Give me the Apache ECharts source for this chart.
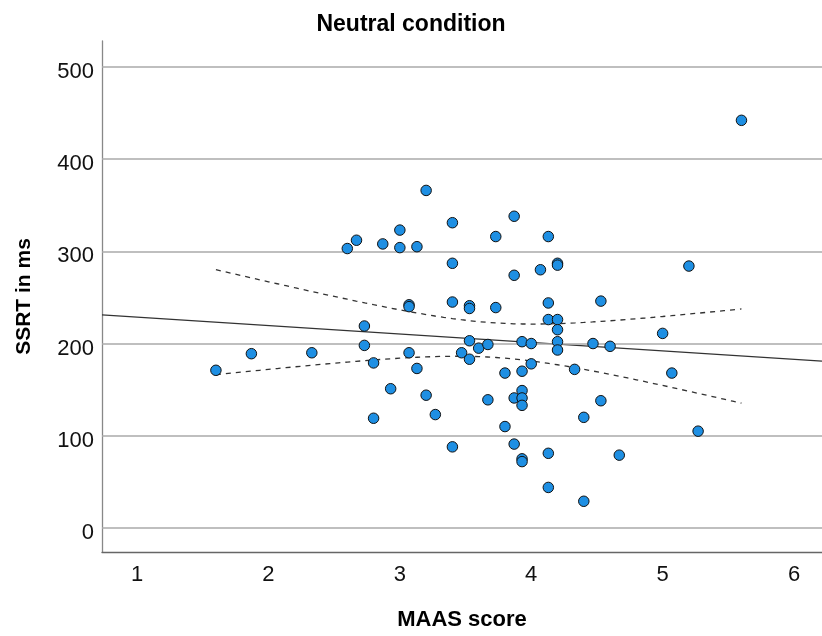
<!DOCTYPE html>
<html>
<head>
<meta charset="utf-8">
<script src="https://cdn.jsdelivr.net/npm/echarts@6/dist/echarts.min.js"></script>
<style>
    html, body { margin: 0; padding: 0; background: #fff; }
    #chart { width: 822px; height: 636px; }
</style>
</head>
<body>
<div id="chart"></div>
<script>
// 数据：MAAS 分数 与 SSRT (ms)
var maasScore = [
    3.20, 3.40, 3.00, 2.67, 2.60, 2.87, 3.00, 3.13, 3.40, 3.07,
    3.07, 3.40, 5.60, 3.87, 3.73, 4.13, 3.87, 4.07, 4.20, 4.20,
    5.20, 3.53, 3.53, 3.73, 4.13, 4.53, 4.13, 4.20, 4.20, 5.00,
    3.53, 3.60, 3.67, 3.47, 3.53, 3.93, 4.00, 4.20, 4.20, 4.47,
    4.60, 4.00, 3.80, 3.93, 4.33, 5.07, 3.93, 3.87, 3.93, 3.93,
    3.67, 4.53, 4.40, 3.80, 5.27, 3.40, 3.87, 3.93, 3.93, 4.13,
    4.67, 4.13, 4.40, 3.27, 2.73, 2.73, 1.87, 2.33, 1.60, 3.07,
    2.80, 3.13, 2.93, 3.20, 2.80
];
var ssrt = [
    366, 331, 323, 312, 303, 308, 304, 305, 287, 242,
    240, 245, 442, 338, 316, 316, 274, 280, 287, 285,
    284, 241, 238, 239, 244, 246, 226, 226, 215, 211,
    203, 195, 199, 190, 183, 202, 200, 202, 193, 200,
    197, 178, 168, 170, 172, 168, 149, 141, 141, 133,
    139, 138, 120, 110, 105, 88, 91, 75, 72, 81,
    79, 44, 29, 123, 219, 198, 189, 190, 171, 190,
    179, 173, 151, 144, 119
];
var xTicks = [1, 2, 3, 4, 5, 6];
var yTicks = [0, 100, 200, 300, 400, 500];

var xMin = 0.733, xMax = 6.213;
var yMin = -26, yMax = 528;

// 线性回归 + 95% 均值置信带
var n = maasScore.length;
var xbar = 0, ybar = 0;
for (var i = 0; i < n; i++) { xbar += maasScore[i]; ybar += ssrt[i]; }
xbar /= n; ybar /= n;
var sxx = 0, sxy = 0;
for (var i = 0; i < n; i++) {
    sxx += (maasScore[i] - xbar) * (maasScore[i] - xbar);
    sxy += (maasScore[i] - xbar) * (ssrt[i] - ybar);
}
var slope = sxy / sxx;
var intercept = ybar - slope * xbar;
var sse = 0;
for (var i = 0; i < n; i++) {
    var r = ssrt[i] - (intercept + slope * maasScore[i]);
    sse += r * r;
}
var se = Math.sqrt(sse / (n - 2));
var tCrit = 1.993;

function fit(x) { return intercept + slope * x; }

var fitLine = [[xMin, fit(xMin)], [xMax, fit(xMax)]];
var lowBand = [], highBand = [];
var dMin = Math.min.apply(null, maasScore), dMax = Math.max.apply(null, maasScore);
for (var k = 0; k <= 60; k++) {
    var x = dMin + (dMax - dMin) * k / 60;
    var h = tCrit * se * Math.sqrt(1 / n + (x - xbar) * (x - xbar) / sxx);
    lowBand.push([x, fit(x) - h]);
    highBand.push([x, fit(x) + h]);
}

var points = maasScore.map(function (v, i) { return [v, ssrt[i]]; });

var font = 'Liberation Sans, Arial, sans-serif';
var myChart = echarts.init(document.getElementById('chart'));

var dashStyle = { color: '#333', width: 1.3, type: [5, 5] };

var option = {
    animation: false,
    backgroundColor: '#fff',
    title: {
        text: 'Neutral condition',
        left: 'center',
        top: 8,
        textStyle: { fontFamily: font, fontSize: 23, fontWeight: 'bold', color: '#000' }
    },
    grid: { left: 102, right: 0, top: 41, bottom: 83 },
    xAxis: {
        type: 'value',
        min: xMin,
        max: xMax,
        name: 'MAAS score',
        nameLocation: 'middle',
        nameGap: 57,
        nameTextStyle: { fontFamily: font, fontSize: 22, fontWeight: 'bold', color: '#000' },
        axisLine: { show: true, onZero: false, lineStyle: { color: '#666', width: 1.3 } },
        axisTick: { show: false },
        splitLine: { show: false },
        axisLabel: {
            customValues: xTicks,
            margin: 12,
            fontFamily: font,
            fontSize: 22,
            color: '#111'
        }
    },
    yAxis: {
        type: 'value',
        min: yMin,
        max: yMax,
        name: 'SSRT in ms',
        nameLocation: 'middle',
        nameGap: 67,
        nameTextStyle: { fontFamily: font, fontSize: 21, fontWeight: 'bold', color: '#000' },
        axisLine: { show: true, onZero: false, lineStyle: { color: '#888', width: 1.3 } },
        axisTick: { show: false },
        splitLine: { show: false },
        axisLabel: {
            customValues: yTicks,
            margin: 8,
            verticalAlign: 'top',
            lineHeight: 10,
            fontFamily: font,
            fontSize: 22,
            color: '#111'
        }
    },
    series: [
        {
            // 网格线
            type: 'line',
            data: [],
            silent: true,
            markLine: {
                silent: true,
                symbol: 'none',
                label: { show: false },
                lineStyle: { color: '#aaa', width: 1.5, type: 'solid' },
                data: yTicks.map(function (v) { return { yAxis: v }; })
            }
        },
        {
            type: 'line',
            data: fitLine,
            symbol: 'none',
            lineStyle: { color: '#333', width: 1.3 },
            z: 3
        },
        {
            type: 'line',
            data: highBand,
            symbol: 'none',
            lineStyle: dashStyle,
            z: 3
        },
        {
            type: 'line',
            data: lowBand,
            symbol: 'none',
            lineStyle: dashStyle,
            z: 3
        },
        {
            type: 'scatter',
            data: points,
            symbolSize: 10.5,
            itemStyle: { color: '#1e8fe3', borderColor: '#111', borderWidth: 1, opacity: 1 },
            z: 5
        }
    ]
};

myChart.setOption(option);
</script>
</body>
</html>
